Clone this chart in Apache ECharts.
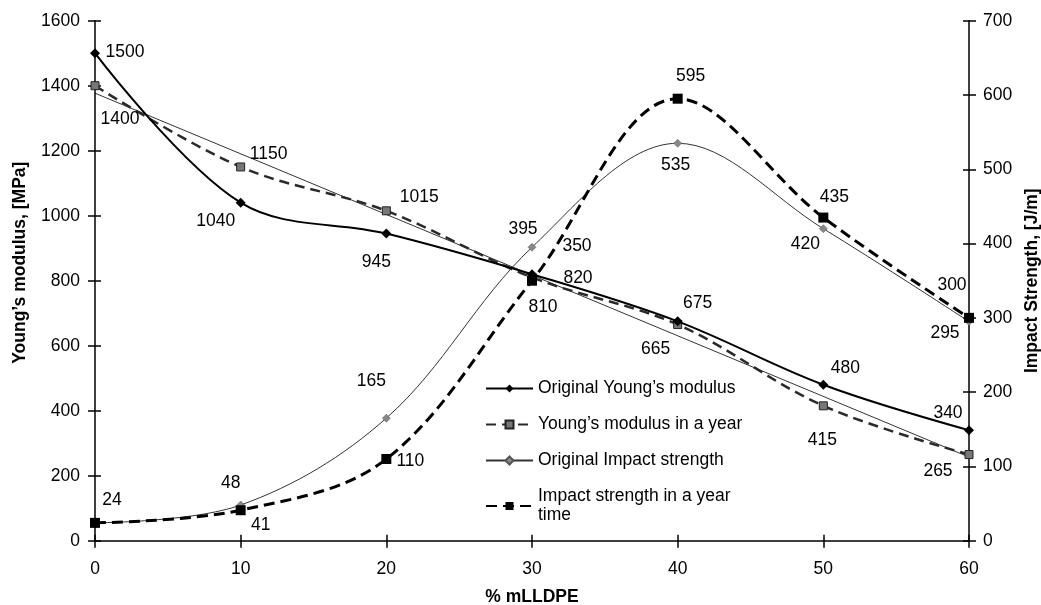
<!DOCTYPE html>
<html>
<head>
<meta charset="utf-8">
<script src="https://cdn.jsdelivr.net/npm/echarts@6/dist/echarts.min.js"></script>
<style>html,body{margin:0;padding:0;background:#fff}#c{width:1041px;height:605px}</style>
</head>
<body>
<div id="c"></div>
<script>
// ---- data ----
const xValues = [0, 10, 20, 30, 40, 50, 60];
const youngOriginal = [1500, 1040, 945, 820, 675, 480, 340];
const youngYear = [1400, 1150, 1015, 810, 665, 415, 265];
const impactOriginal = [24, 48, 165, 395, 535, 420, 295];
const impactYear = [24, 41, 110, 350, 595, 435, 300];
const seriesNames = ['Original Young\u2019s modulus', 'Young\u2019s modulus in a year', 'Original Impact strength', 'Impact strength in a year'];
const xTitle = '% mLLDPE';
const yLeftTitle = 'Young\u2019s modulus, [MPa]';
const yRightTitle = 'Impact Strength, [J/m]';

// ---- label offsets (px, relative to point) ----
const offYO = [[30,-1],[-25,18],[-10,29],[46,4],[20,-18],[22,-17],[-21,-17]];
const offYY = [[25,33],[28,-13],[33,-14],[11,30],[-22,25],[-1,34],[-31,17]];
const offIO = [[17,-23],[-10,-22],[-15,-37],[-9,-18],[-2,22],[-18,15],[-24,12]];
const offIY = [null,[20,15],[24,2],[45,-35],[13,-23],[11,-20],[-17,-33]];

const FS = 17.5;
const FONT = 'Liberation Sans, Arial, sans-serif';

function pts(vals, offs) {
  return vals.map((v, i) => ({
    value: [xValues[i], v],
    label: offs[i] ? { show: true, position: 'inside', offset: offs[i] } : { show: false }
  }));
}

// linear trendline of the "in a year" Young's modulus
const n = xValues.length;
const mx = xValues.reduce((a, b) => a + b, 0) / n;
const my = youngYear.reduce((a, b) => a + b, 0) / n;
let sxy = 0, sxx = 0;
for (let i = 0; i < n; i++) { sxy += (xValues[i] - mx) * (youngYear[i] - my); sxx += (xValues[i] - mx) ** 2; }
const slope = sxy / sxx, icpt = my - slope * mx;
const trend = [xValues[0], xValues[n - 1]].map(x => [x, icpt + slope * x]);

const labelStyle = { color: '#000', fontSize: FS, fontFamily: FONT };
const chart = echarts.init(document.getElementById('c'), null, { renderer: 'canvas' });
const plain = v => String(v);
const axisCommon = {
  axisLine: { show: true, onZero: false, lineStyle: { color: '#000', width: 1.5 } },
  axisTick: { show: true, length: 7, lineStyle: { color: '#000', width: 1.5 } },
  splitLine: { show: false },
  axisLabel: { color: '#000', fontSize: FS, fontFamily: FONT, formatter: plain },
  nameTextStyle: { color: '#000', fontSize: FS, fontWeight: 'bold', fontFamily: FONT }
};
// inner half of the crossing tick marks
const innerTicks = {
  axisLine: { show: false, onZero: false }, splitLine: { show: false }, axisLabel: { show: false },
  axisTick: { show: true, inside: true, length: 6, lineStyle: { color: '#000', width: 1.5 } }
};
chart.setOption({
  animation: false,
  backgroundColor: '#fff',
  textStyle: { fontFamily: FONT },
  grid: { left: 95, right: 72, top: 20.7, bottom: 64.3, containLabel: false, outerBoundsMode: 'none' },
  legend: {
    data: seriesNames,
    orient: 'vertical',
    left: 480, top: 374,
    itemWidth: 47, itemHeight: 10, itemGap: 17,
    textStyle: { color: '#000', fontSize: FS, fontFamily: FONT, lineHeight: 19 },
    formatter: name => name === seriesNames[3] ? 'Impact strength in a year\ntime' : name
  },
  xAxis: [
    Object.assign({}, axisCommon, {
      type: 'value', min: 0, max: 60, interval: 10, position: 'bottom',
      name: xTitle, nameLocation: 'middle', nameGap: 47,
      axisLabel: Object.assign({}, axisCommon.axisLabel, { margin: 19 })
    }),
    Object.assign({}, innerTicks, { type: 'value', min: 0, max: 60, interval: 10, position: 'bottom' })
  ],
  yAxis: [
    Object.assign({}, axisCommon, {
      type: 'value', min: 0, max: 1600, interval: 200, position: 'left',
      name: yLeftTitle, nameLocation: 'middle', nameGap: 66, nameRotate: 90,
      nameTextStyle: Object.assign({}, axisCommon.nameTextStyle, { padding: [0, 0, 0, 36] }),
      axisLabel: Object.assign({}, axisCommon.axisLabel, { margin: 15 })
    }),
    Object.assign({}, axisCommon, {
      type: 'value', min: 0, max: 700, interval: 100, position: 'right',
      name: yRightTitle, nameLocation: 'middle', nameGap: 51, nameRotate: 90,
      axisLabel: Object.assign({}, axisCommon.axisLabel, { margin: 14 })
    }),
    Object.assign({}, innerTicks, { type: 'value', min: 0, max: 1600, interval: 200, position: 'left' }),
    Object.assign({}, innerTicks, { type: 'value', min: 0, max: 700, interval: 100, position: 'right' })
  ],
  series: [
    {
      name: 'trend', type: 'line', yAxisIndex: 0, data: trend, symbol: 'none', silent: true,
      lineStyle: { color: '#000', width: 0.8 }, z: 1
    },
    {
      name: seriesNames[0], type: 'line', yAxisIndex: 0, smooth: 0.35,
      data: pts(youngOriginal, offYO),
      symbol: 'diamond', symbolSize: 10,
      itemStyle: { color: '#000' },
      lineStyle: { color: '#000', width: 2 },
      label: labelStyle, z: 4
    },
    {
      name: seriesNames[1], type: 'line', yAxisIndex: 0, smooth: 0.35,
      data: pts(youngYear, offYY),
      symbol: 'rect', symbolSize: 8,
      itemStyle: { color: '#777', borderColor: '#222', borderWidth: 1 },
      lineStyle: { color: '#2a2a2a', width: 2.5, type: [10, 6] },
      label: labelStyle, z: 3
    },
    {
      name: seriesNames[2], type: 'line', yAxisIndex: 1, smooth: 0.35,
      data: pts(impactOriginal, offIO),
      symbol: 'diamond', symbolSize: 8,
      itemStyle: { color: '#888', borderColor: '#555', borderWidth: 0.5 },
      lineStyle: { color: '#333', width: 1 },
      label: labelStyle, z: 3
    },
    {
      name: seriesNames[3], type: 'line', yAxisIndex: 1, smooth: 0.35,
      data: pts(impactYear, offIY),
      symbol: 'rect', symbolSize: 10,
      itemStyle: { color: '#000' },
      lineStyle: { color: '#000', width: 3, type: [11, 6] },
      label: labelStyle, z: 4
    }
  ]
});
</script>
</body>
</html>
